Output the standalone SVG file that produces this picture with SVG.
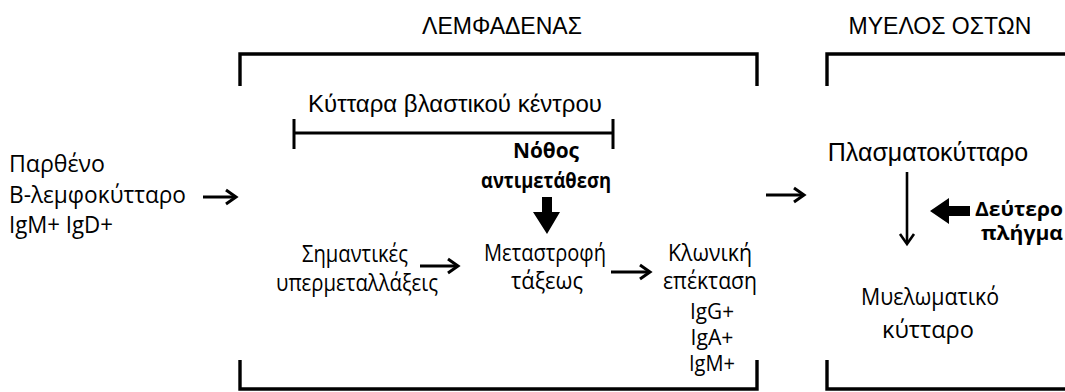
<svg xmlns="http://www.w3.org/2000/svg" width="1065" height="392" viewBox="0 0 1065 392">
<style>
.ar{font-family:"Liberation Sans",Arial,sans-serif;font-size:23px;fill:#000}
.ca{font-family:"Open Sans","Noto Sans",sans-serif;font-size:24px;fill:#000}
.ig{font-size:22px}
.cb{font-family:"Open Sans","Noto Sans",sans-serif;font-size:21px;font-weight:bold;fill:#000}
.sh{font-size:19.5px}
.br{fill:none;stroke:#000;stroke-width:3.4}
.th{fill:none;stroke:#000;stroke-width:3;stroke-linecap:butt}
.hd{fill:none;stroke:#000;stroke-width:3;stroke-linejoin:miter}
.blk{fill:#000;stroke:none}
</style>
<rect width="1065" height="392" fill="#fff"/>
<g id="lymph-node">
<text class="ar" x="502" y="34" text-anchor="middle">ΛΕΜΦΑΔΕΝΑΣ</text>
<path class="br" d="M240,86 V54 H757 V86"/>
<path class="br" d="M240,360 V389 H757 V360"/>
</g>
<g id="bone-marrow">
<text class="ar" x="940" y="34" text-anchor="middle">ΜΥΕΛΟΣ ΟΣΤΩΝ</text>
<path class="br" d="M827,86 V54 H1068"/>
<path class="br" d="M827,360 V389 H1068"/>
</g>
<g id="germinal-center">
<text class="ar" x="455" y="112" text-anchor="middle" style="font-size:24px">Κύτταρα βλαστικού κέντρου</text>
<path class="br" d="M294,119 V149 M294,133 H613 M613,119 V149" style="stroke-width:3"/>
</g>
<g id="naive-b">
<text class="ca" x="9" y="172" textLength="96" lengthAdjust="spacingAndGlyphs">Παρθένο</text>
<text class="ca" x="9" y="203" textLength="177" lengthAdjust="spacingAndGlyphs">Β-λεμφοκύτταρο</text>
<text class="ca" x="9" y="233" textLength="104" lengthAdjust="spacingAndGlyphs">IgM+ IgD+</text>
</g>
<g id="hypermutation">
<text class="ca" x="355" y="262" text-anchor="middle" textLength="106" lengthAdjust="spacingAndGlyphs">Σημαντικές</text>
<text class="ca" x="357" y="291" text-anchor="middle" textLength="162" lengthAdjust="spacingAndGlyphs">υπερμεταλλάξεις</text>
</g>
<g id="class-switch">
<text class="ca" x="545" y="261" text-anchor="middle" textLength="122" lengthAdjust="spacingAndGlyphs">Μεταστροφή</text>
<text class="ca" x="547" y="289" text-anchor="middle" textLength="72" lengthAdjust="spacingAndGlyphs">τάξεως</text>
</g>
<g id="translocation">
<text class="cb" x="546" y="158" text-anchor="middle" textLength="66" lengthAdjust="spacingAndGlyphs">Νόθος</text>
<text class="cb" x="546" y="188" text-anchor="middle" textLength="130" lengthAdjust="spacingAndGlyphs">αντιμετάθεση</text>
</g>
<g id="clonal-expansion">
<text class="ca" x="710" y="261" text-anchor="middle" textLength="84" lengthAdjust="spacingAndGlyphs">Κλωνική</text>
<text class="ca" x="710" y="289" text-anchor="middle" textLength="94" lengthAdjust="spacingAndGlyphs">επέκταση</text>
<text class="ca ig" x="712" y="319" text-anchor="middle" textLength="44" lengthAdjust="spacingAndGlyphs">IgG+</text>
<text class="ca ig" x="712" y="345" text-anchor="middle" textLength="43" lengthAdjust="spacingAndGlyphs">IgA+</text>
<text class="ca ig" x="712" y="371" text-anchor="middle" textLength="46" lengthAdjust="spacingAndGlyphs">IgM+</text>
</g>
<g id="plasma-cell">
<text class="ar" x="928" y="161" text-anchor="middle" style="font-size:25px">Πλασματοκύτταρο</text>
</g>
<g id="second-hit">
<text class="cb sh" x="1063" y="216" text-anchor="end" textLength="88" lengthAdjust="spacingAndGlyphs">Δεύτερο</text>
<text class="cb sh" x="1063" y="240" text-anchor="end" textLength="82" lengthAdjust="spacingAndGlyphs">πλήγμα</text>
</g>
<g id="myeloma-cell">
<text class="ca" x="930" y="305" text-anchor="middle" textLength="138" lengthAdjust="spacingAndGlyphs">Μυελωματικό</text>
<text class="ca" x="928" y="338" text-anchor="middle" textLength="92" lengthAdjust="spacingAndGlyphs">κύτταρο</text>
</g>
<g id="connectors">
<path class="th" d="M203,197 H235"/><path class="hd" d="M226,190 L236,197 L226,204"/>
<path class="th" d="M420,266 H457"/><path class="hd" d="M448,259 L458,266 L448,273"/>
<path class="th" d="M611,272 H649"/><path class="hd" d="M640,265 L650,272 L640,279"/>
<path class="th" d="M766,195 H803"/><path class="hd" d="M794,188 L804,195 L794,202"/>
<path class="th" d="M907,172 V243" style="stroke-width:2.6"/><path class="hd" d="M900,234 L907,244 L914,234" style="stroke-width:2.6"/>
<path class="blk" d="M542,197 H552 V212 H560 L547,234 L533,212 H542 Z"/>
<path class="blk" d="M970,206 V216 H949 V224 L930,211 L949,198 V206 Z"/>
</g>
</svg>
